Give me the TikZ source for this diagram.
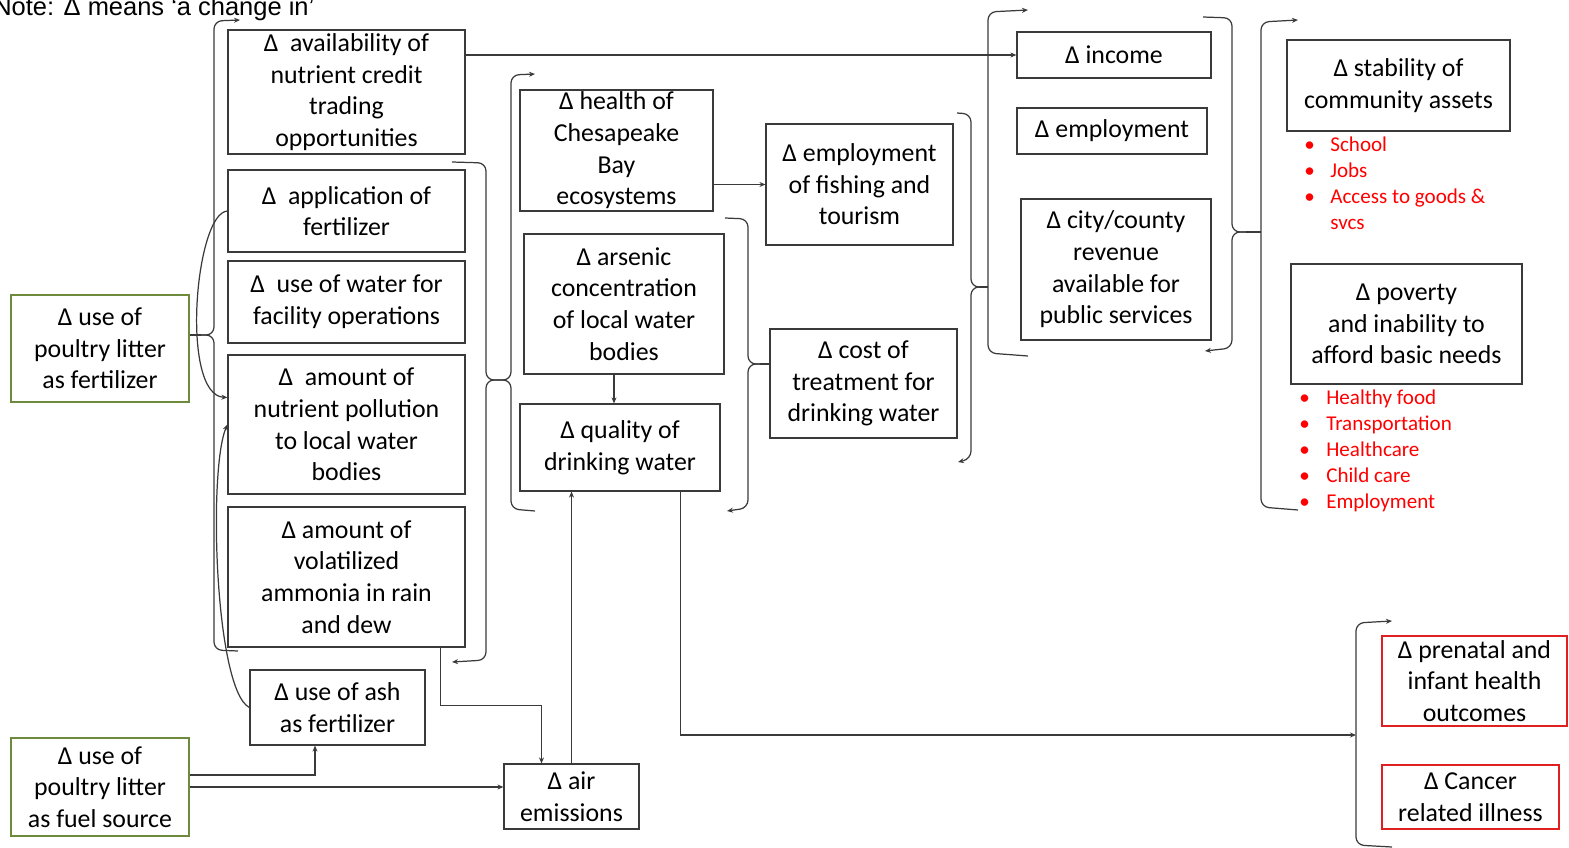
\documentclass[tikz,border=0pt]{standalone}
\usepackage{fontspec}
\setmainfont{Carlito}
\newfontfamily\notefont{Liberation Sans}
\usepackage{tikz}
\usetikzlibrary{arrows.meta,calc}
\definecolor{borde}{HTML}{3A3A3A}
\definecolor{oliva}{HTML}{6E8B3D}
\definecolor{rojo}{HTML}{FF0000}
\definecolor{rojocaja}{HTML}{E02020}

\begin{document}
\begin{tikzpicture}[x=0.02cm, y=-0.02cm,
  box/.style={draw=borde, line width=0.7pt, align=center, inner sep=0pt, font=\fontsize{14.7}{18}\selectfont},
  greenbox/.style={box, draw=oliva},
  redbox/.style={box, draw=rojocaja},
  bullets/.style={anchor=north west, align=left, inner sep=0pt, text=rojo, font=\fontsize{12}{14.7}\selectfont},
  line/.style={draw=borde, line width=0.7pt},
  arrow/.style={line, -{Stealth[length=1.2mm,width=1mm]}},
  brace/.style={line, rounded corners=1.6mm},
  barrow/.style={brace, -{Stealth[length=1.2mm,width=1mm]}}
]
\useasboundingbox (0,0) rectangle (1569,848);

\node[font=\notefont\fontsize{14.5}{17}\selectfont, anchor=base west, inner sep=0pt] (note) at (-7,16) {Note: Δ means ‘a change in’};

% sources
\node[greenbox, minimum width=3.56cm, minimum height=2.14cm] (litterfert) at (100,348.5) {Δ use of\\poultry litter\\as fertilizer};
\node[greenbox, minimum width=3.56cm, minimum height=1.96cm] (litterfuel) at (100,787) {Δ use of\\poultry litter\\as fuel source};

% first column
\node[box, minimum width=4.74cm, minimum height=2.48cm] (avail) at (346.5,92) {Δ~ availability of\\nutrient credit\\trading\\opportunities};
\node[box, minimum width=4.74cm, minimum height=1.64cm] (applfert) at (346.5,211) {Δ~ application of\\fertilizer};
\node[box, minimum width=4.74cm, minimum height=1.64cm] (water) at (346.5,302) {Δ~ use of water for\\facility operations};
\node[box, minimum width=4.74cm, minimum height=2.78cm] (nutrpoll) at (346.5,424.5) {Δ~ amount of\\nutrient pollution\\to local water\\bodies};
\node[box, minimum width=4.74cm, minimum height=2.8cm] (ammonia) at (346.5,577) {Δ amount of\\volatilized\\ammonia in rain\\and dew};
\node[box, minimum width=3.5cm, minimum height=1.5cm] (ash) at (337.5,707.5) {Δ use of ash\\as fertilizer};
\node[box, minimum width=2.7cm, minimum height=1.3cm] (air) at (571.5,796.5) {Δ air\\emissions};

% second column
\node[box, minimum width=3.86cm, minimum height=2.42cm] (chesapeake) at (616.5,150.5) {Δ health of\\Chesapeake\\Bay\\ecosystems};
\node[box, minimum width=4cm, minimum height=2.8cm] (arsenic) at (624,304) {Δ arsenic\\concentration\\of local water\\bodies};
\node[box, minimum width=4cm, minimum height=1.74cm] (quality) at (620,447.5) {Δ quality of\\drinking water};
\node[box, minimum width=3.74cm, minimum height=2.42cm] (fishing) at (859.5,184.5) {Δ employment\\of fishing and\\tourism};
\node[box, minimum width=3.74cm, minimum height=2.18cm] (cost) at (863.5,383.5) {Δ cost of\\treatment for\\drinking water};

% economy
\node[box, minimum width=3.88cm, minimum height=0.92cm] (income) at (1114,55) {Δ income};
\node[box, minimum width=3.8cm, minimum height=0.92cm] (employ) at (1112,131) {Δ employment};
\node[box, minimum width=3.8cm, minimum height=2.82cm] (city) at (1116,269.5) {Δ city/county\\revenue\\available for\\public services};

% community
\node[box, minimum width=4.46cm, minimum height=1.82cm] (stability) at (1398.5,85.5) {Δ stability of\\community assets};
\node[bullets] (assets) at (1304,137) {\makebox[0.52cm][l]{•}School\\\makebox[0.52cm][l]{•}Jobs\\\makebox[0.52cm][l]{•}Access to goods \&\\\hspace*{0.52cm}svcs};
\node[box, minimum width=4.62cm, minimum height=2.4cm] (poverty) at (1406.5,324) {Δ poverty\\and inability to\\afford basic needs};
\node[bullets] (needs) at (1299,390) {\makebox[0.54cm][l]{•}Healthy food\\\makebox[0.54cm][l]{•}Transportation\\\makebox[0.54cm][l]{•}Healthcare\\\makebox[0.54cm][l]{•}Child care\\\makebox[0.54cm][l]{•}Employment};

% health
\node[redbox, minimum width=3.7cm, minimum height=1.8cm] (prenatal) at (1474.5,681) {Δ prenatal and\\infant health\\outcomes};
\node[redbox, minimum width=3.54cm, minimum height=1.28cm] (cancer) at (1470.5,797) {Δ Cancer\\related illness};

% braces
\coordinate (atip) at (201,335);
\draw[barrow] (atip) -- (214,335) -- (214,21) -- (240,20);
\draw[brace] (atip) -- (214,335) -- (214,650) -- (238,651);
\coordinate (btip) at (498,380);
\draw[brace] (452,162) -- (486,163) -- (486,380) -- (btip);
\draw[barrow] (btip) -- (486,380) -- (486,660) -- (452,662);
\draw[barrow] (btip) -- (511,380) -- (511,75) -- (535,74);
\draw[brace] (btip) -- (511,380) -- (511,509) -- (535,511);
\coordinate (dtip) at (760,364);
\draw[brace] (725,218) -- (748,219) -- (748,364) -- (dtip);
\draw[barrow] (dtip) -- (748,364) -- (748,508) -- (727,511);
\coordinate (gtip) at (979,287);
\draw[brace] (957,113) -- (971,114) -- (971,287) -- (gtip);
\draw[barrow] (gtip) -- (971,287) -- (971,459) -- (958,462);
\coordinate (hmid) at (988,287);
\draw[barrow] (1028,356) -- (988,353) -- (988,12) -- (1028,10);
\coordinate (itip) at (1246,232);
\draw[brace] (1203,17) -- (1232,18) -- (1232,232) -- (itip);
\draw[barrow] (itip) -- (1232,232) -- (1232,348) -- (1205,351);
\coordinate (jmid) at (1261,232);
\draw[barrow] (1298,510) -- (1261,507) -- (1261,22) -- (1298,20);
\coordinate (lmid) at (1356,735);
\draw[barrow] (1392,847) -- (1356,845) -- (1356,623) -- (1392,621);

% links
\draw[line] (litterfert.east |- atip) -- (atip);
\draw[line] (dtip) -- (dtip -| cost.west);
\draw[line] (gtip) -- (hmid);
\draw[line] (itip) -- (jmid);
\draw[arrow] (avail.east |- income.west) -- (income.west);
\draw[arrow] (chesapeake.east |- fishing.west) -- (fishing.west);
\coordinate (arsbot) at ($(arsenic.south)+(-10,0)$);
\draw[arrow] (arsbot) -- (arsbot |- quality.north);
\draw[arrow] (air.north) -- (air.north |- quality.south);
\coordinate (amm) at ($(ammonia.south east)+(-25,0)$);
\draw[arrow] (amm) -- ++(0,58) -| ($(air.north)+(-30,0)$);
\coordinate (qout) at ($(quality.south east)+(-40,0)$);
\draw[arrow] (qout) |- (lmid);
\draw[arrow] (litterfuel.east) -- (litterfuel.east -| air.west);
\coordinate (fuelup) at ($(litterfuel.east)+(0,-12)$);
\draw[arrow] (fuelup) -| ($(ash.south)+(-22.5,0)$);
\draw[arrow] (applfert.west) .. controls (195,213) and (180,395) .. ($(nutrpoll.west)+(0,-27)$);
\draw[arrow] (ash.west) .. controls (215,690) and (208,470) .. (nutrpoll.west);
\end{tikzpicture}
\end{document}
